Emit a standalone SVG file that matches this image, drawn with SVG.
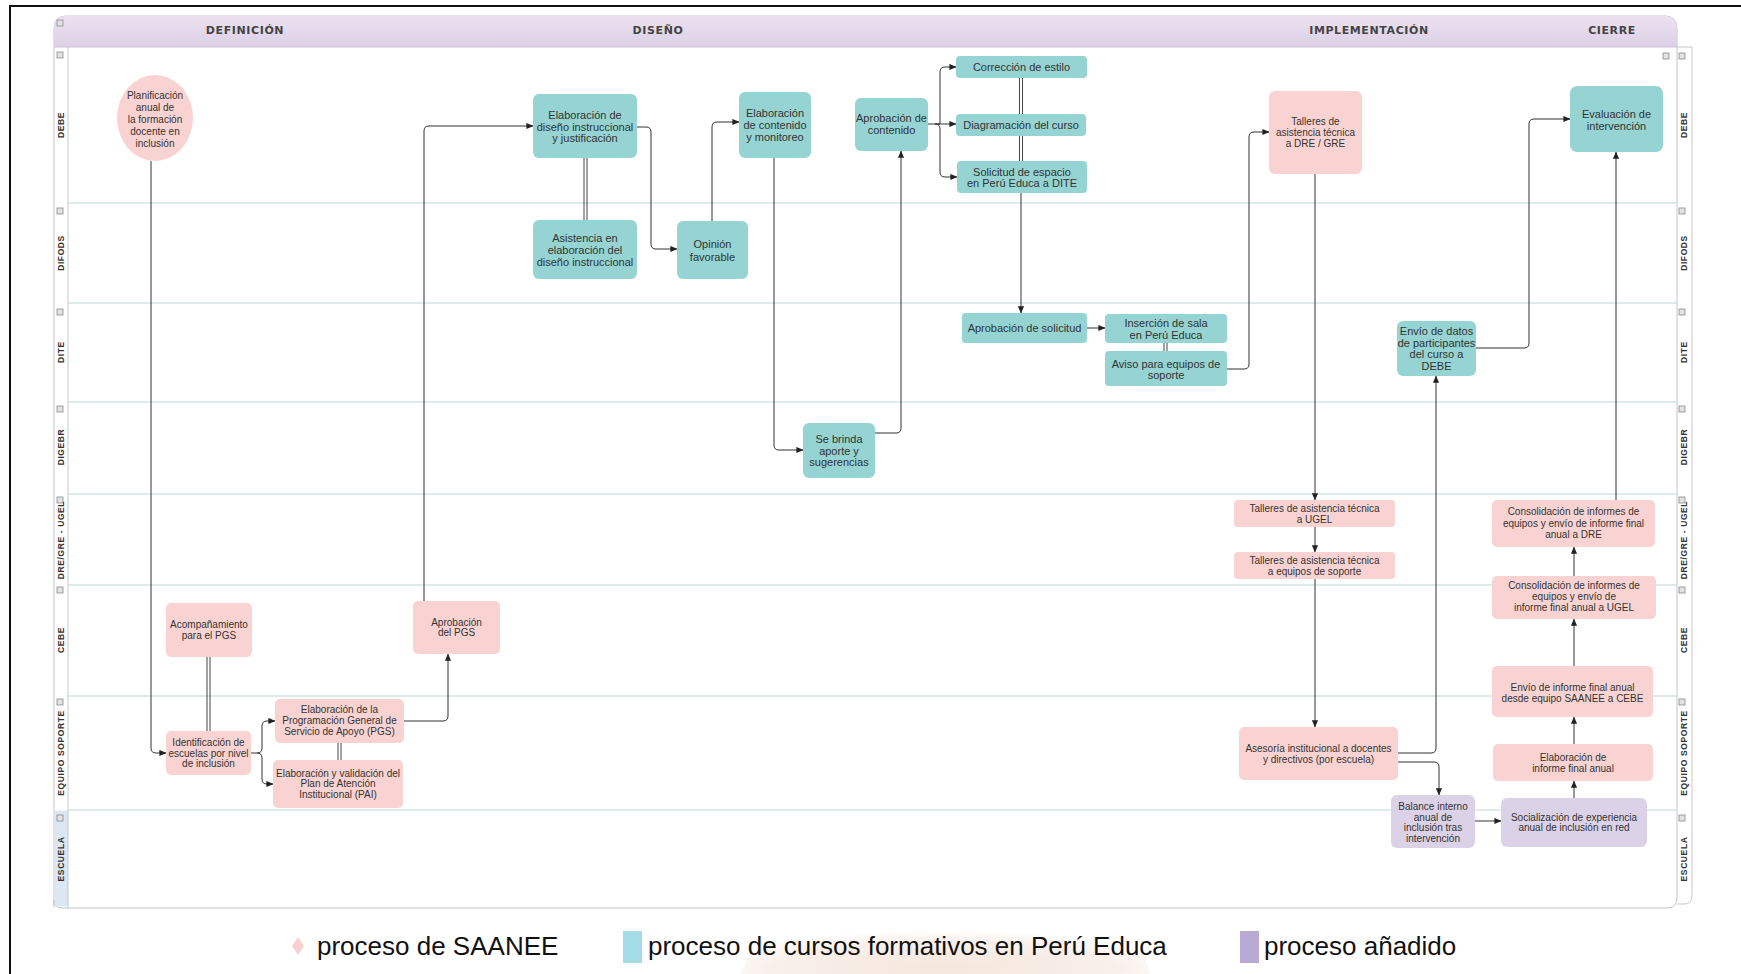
<svg xmlns="http://www.w3.org/2000/svg" width="1741" height="974" viewBox="0 0 1741 974">
<defs>
<marker id="a" viewBox="0 0 8 8" refX="7.6" refY="4" markerWidth="7" markerHeight="7" markerUnits="userSpaceOnUse" orient="auto"><path d="M0,0.5 L8,4 L0,7.5z" fill="#222"/></marker>
<linearGradient id="hg" x1="0" y1="0" x2="0" y2="1"><stop offset="0" stop-color="#ebe2f0"/><stop offset="1" stop-color="#ddd0e6"/></linearGradient>
<radialGradient id="wm" cx="0.5" cy="0.9" r="0.6"><stop offset="0" stop-color="#f4e6dc"/><stop offset="0.7" stop-color="#f9f0ea"/><stop offset="1" stop-color="#ffffff"/></radialGradient>
</defs>
<style>
.teal{fill:#95d4d2}
.pink{fill:#f9d3d1}
.purple{fill:#dcd2e7}
.t{font-family:'Liberation Sans',Arial,sans-serif;font-size:10px;fill:#333;text-anchor:middle}
.t11{font-size:11px}
.lane{font-family:'Liberation Sans',Arial,sans-serif;font-weight:bold;font-size:8.5px;fill:#333;text-anchor:middle;letter-spacing:0.6px}
.hdr{font-family:'DejaVu Sans',Verdana,sans-serif;font-weight:bold;font-size:11px;fill:#444;text-anchor:middle;letter-spacing:0.6px}
.c{fill:none;stroke:#333;stroke-width:1;marker-end:url(#a)}
.d{fill:none;stroke:#444;stroke-width:1}
.div{stroke:#bcdad7;stroke-width:1.2}
.ic{fill:#e2e2e2;stroke:#8a8a8a;stroke-width:0.8}
.leg{font-family:'Liberation Sans',Arial,sans-serif;font-size:26px;fill:#111}
</style>
<rect width="1741" height="974" fill="#fff"/>
<!-- faint watermark band -->
<path d="M740,974 L770,912 H1130 L1150,974 Z" fill="url(#wm)"/>
<!-- frame -->
<path d="M10,974 V6 H1741" fill="none" stroke="#111" stroke-width="2"/>
<!-- pool -->
<g id="pool">
<path d="M54,907 V28 Q54,16 66,16 H1665 Q1677,16 1677,28 V898 Q1677,908 1667,908 H62 Q54,908 54,900 Z" fill="#fff" stroke="#c4c4c4" stroke-width="1"/>
<path d="M54,47 V28 Q54,16 66,16 H1665 Q1677,16 1677,28 V47 Z" fill="url(#hg)"/>
<line x1="54" y1="47" x2="1677" y2="47" stroke="#cfc3d8" stroke-width="1"/>
<rect x="54.5" y="810.5" width="13.5" height="96" fill="#dbe7f3"/>
<line x1="68" y1="47" x2="68" y2="908" stroke="#c8c8c8"/>
<path d="M1677,47 H1692 V896 Q1692,904 1684,904 H1677" fill="none" stroke="#c8c8c8"/>
<line class="div" x1="68" y1="203" x2="1677" y2="203"/>
<line class="div" x1="68" y1="303" x2="1677" y2="303"/>
<line class="div" x1="68" y1="402" x2="1677" y2="402"/>
<line class="div" x1="68" y1="494" x2="1677" y2="494"/>
<line class="div" x1="68" y1="585" x2="1677" y2="585"/>
<line class="div" x1="68" y1="696" x2="1677" y2="696"/>
<line class="div" x1="68" y1="810" x2="1677" y2="810"/>
<text class="hdr" x="245" y="34">DEFINICIÓN</text>
<text class="hdr" x="658" y="34">DISEÑO</text>
<text class="hdr" x="1369" y="34">IMPLEMENTACIÓN</text>
<text class="hdr" x="1612" y="34">CIERRE</text>
<rect class="ic" x="57" y="20" width="6" height="6"/>
<rect class="ic" x="57" y="52" width="6" height="6"/>
<rect class="ic" x="57" y="208" width="6" height="6"/>
<rect class="ic" x="57" y="309" width="6" height="6"/>
<rect class="ic" x="57" y="406" width="6" height="6"/>
<rect class="ic" x="57" y="497" width="6" height="6"/>
<rect class="ic" x="57" y="587" width="6" height="6"/>
<rect class="ic" x="57" y="699" width="6" height="6"/>
<rect class="ic" x="57" y="815" width="6" height="6"/>
<rect class="ic" x="1663" y="53" width="6" height="6"/>
<rect class="ic" x="1679" y="53" width="6" height="6"/>
<rect class="ic" x="1679" y="208" width="6" height="6"/>
<rect class="ic" x="1679" y="309" width="6" height="6"/>
<rect class="ic" x="1679" y="406" width="6" height="6"/>
<rect class="ic" x="1679" y="497" width="6" height="6"/>
<rect class="ic" x="1679" y="587" width="6" height="6"/>
<rect class="ic" x="1679" y="699" width="6" height="6"/>
<rect class="ic" x="1679" y="815" width="6" height="6"/>
<text class="lane" transform="translate(64,125) rotate(-90)">DEBE</text>
<text class="lane" transform="translate(64,253) rotate(-90)">DIFODS</text>
<text class="lane" transform="translate(64,352) rotate(-90)">DITE</text>
<text class="lane" transform="translate(64,447) rotate(-90)">DIGEBR</text>
<text class="lane" transform="translate(64,540) rotate(-90)">DRE/GRE - UGEL</text>
<text class="lane" transform="translate(64,640) rotate(-90)">CEBE</text>
<text class="lane" transform="translate(64,753) rotate(-90)">EQUIPO SOPORTE</text>
<text class="lane" transform="translate(64,859) rotate(-90)">ESCUELA</text>
<text class="lane" transform="translate(1687,125) rotate(-90)">DEBE</text>
<text class="lane" transform="translate(1687,253) rotate(-90)">DIFODS</text>
<text class="lane" transform="translate(1687,352) rotate(-90)">DITE</text>
<text class="lane" transform="translate(1687,447) rotate(-90)">DIGEBR</text>
<text class="lane" transform="translate(1687,540) rotate(-90)">DRE/GRE - UGEL</text>
<text class="lane" transform="translate(1687,640) rotate(-90)">CEBE</text>
<text class="lane" transform="translate(1687,753) rotate(-90)">EQUIPO SOPORTE</text>
<text class="lane" transform="translate(1687,859) rotate(-90)">ESCUELA</text>
</g>
<!-- connectors -->
<g id="connectors">
<path class="c" d="M151,161 V748 Q151,753 156,753 H166"/>
<path class="c" d="M251,753 H257 Q262,753 262,748 V726 Q262,721 267,721 H275"/>
<path class="c" d="M257,753 Q262,753 262,758 V779 Q262,784 267,784 H273"/>
<path class="c" d="M404,721 H443 Q448,721 448,716 V654"/>
<path class="c" d="M424,601 V131 Q424,126 429,126 H533"/>
<path class="c" d="M637,127 H646 Q651,127 651,132 V244 Q651,249 656,249 H677"/>
<path class="c" d="M712,221 V127 Q712,122 717,122 H739"/>
<path class="c" d="M774,158 V445 Q774,450 779,450 H803"/>
<path class="c" d="M875,433 H896 Q901,433 901,428 V151"/>
<path class="c" d="M928,124 H940 Q940,124 940,119 V72 Q940,67 945,67 H956"/>
<path class="c" d="M935,124 H956"/>
<path class="c" d="M935,124 Q940,124 940,129 V172 Q940,177 945,177 H957"/>
<path class="c" d="M1021,193 V313"/>
<path class="c" d="M1087,328 H1105"/>
<path class="c" d="M1227,369 H1244 Q1249,369 1249,364 V137 Q1249,132 1254,132 H1269"/>
<path class="c" d="M1315,174 V500"/>
<path class="c" d="M1315,527 V552"/>
<path class="c" d="M1315,579 V727"/>
<path class="c" d="M1398,753 H1431 Q1436,753 1436,748 V376"/>
<path class="c" d="M1398,762 H1434 Q1439,762 1439,767 V795"/>
<path class="c" d="M1476,348 H1524 Q1529,348 1529,343 V124 Q1529,119 1534,119 H1570"/>
<path class="c" d="M1616,500 V152"/>
<path class="c" d="M1574,576 V547"/>
<path class="c" d="M1574,666 V619"/>
<path class="c" d="M1574,744 V717"/>
<path class="c" d="M1574,798 V781"/>
<path class="c" d="M1475,821 H1501"/>
<path class="d" d="M207,657 V731 M210,657 V731"/>
<path class="d" d="M338,743 V760 M341,743 V760"/>
<path class="d" d="M584,158 V220 M587,158 V220"/>
<path class="d" d="M1019.5,78 V114 M1022.5,78 V114 M1019.5,136 V161 M1022.5,136 V161"/>
<path class="d" d="M1164,343 V351 M1167,343 V351"/>
</g>
<!-- nodes -->
<g id="n1"><ellipse class="pink" cx="155" cy="118" rx="38" ry="43"/><text class="t"><tspan x="155" y="98.5">Planificación</tspan><tspan x="155" y="110.5">anual de</tspan><tspan x="155" y="122.5">la formación</tspan><tspan x="155" y="134.5">docente en</tspan><tspan x="155" y="146.5">inclusión</tspan></text></g>
<g id="n2"><rect class="pink" x="166" y="731" width="85" height="44" rx="5"/><text class="t"><tspan x="208.5" y="746">Identificación de</tspan><tspan x="208.5" y="756.5">escuelas por nivel</tspan><tspan x="208.5" y="767">de inclusión</tspan></text></g>
<g id="n3"><rect class="pink" x="166" y="603" width="86" height="54" rx="5"/><text class="t"><tspan x="209" y="627.5">Acompañamiento</tspan><tspan x="209" y="638.5">para el PGS</tspan></text></g>
<g id="n4"><rect class="pink" x="275" y="699" width="129" height="44" rx="5"/><text class="t"><tspan x="339.5" y="713">Elaboración de la</tspan><tspan x="339.5" y="724">Programación General de</tspan><tspan x="339.5" y="735">Servicio de Apoyo (PGS)</tspan></text></g>
<g id="n5"><rect class="pink" x="273" y="760" width="130" height="48" rx="5"/><text class="t"><tspan x="338" y="776.5">Elaboración y validación del</tspan><tspan x="338" y="787">Plan de Atención</tspan><tspan x="338" y="797.5">Institucional (PAI)</tspan></text></g>
<g id="n6"><rect class="pink" x="413" y="601" width="87" height="53" rx="5"/><text class="t"><tspan x="456.5" y="625.5">Aprobación</tspan><tspan x="456.5" y="635.5">del PGS</tspan></text></g>
<g id="n7"><rect class="teal" x="533" y="94" width="104" height="64" rx="6"/><text class="t t11"><tspan x="585" y="119">Elaboración de</tspan><tspan x="585" y="131">diseño instruccional</tspan><tspan x="585" y="142">y justificación</tspan></text></g>
<g id="n8"><rect class="teal" x="533" y="220" width="104" height="59" rx="6"/><text class="t t11"><tspan x="585" y="242">Asistencia en</tspan><tspan x="585" y="254">elaboración del</tspan><tspan x="585" y="266">diseño instruccional</tspan></text></g>
<g id="n9"><rect class="teal" x="677" y="221" width="71" height="58" rx="6"/><text class="t t11"><tspan x="712.5" y="248">Opinión</tspan><tspan x="712.5" y="260.5">favorable</tspan></text></g>
<g id="n10"><rect class="teal" x="739" y="92" width="72" height="66" rx="6"/><text class="t t11"><tspan x="775" y="117">Elaboración</tspan><tspan x="775" y="129">de contenido</tspan><tspan x="775" y="141">y monitoreo</tspan></text></g>
<g id="n11"><rect class="teal" x="803" y="423" width="72" height="55" rx="6"/><text class="t t11"><tspan x="839" y="443">Se brinda</tspan><tspan x="839" y="455">aporte y</tspan><tspan x="839" y="466">sugerencias</tspan></text></g>
<g id="n12"><rect class="teal" x="855" y="98" width="73" height="53" rx="6"/><text class="t t11"><tspan x="891.5" y="122">Aprobación de</tspan><tspan x="891.5" y="134">contenido</tspan></text></g>
<g id="n13"><rect class="teal" x="956" y="56" width="131" height="22" rx="4"/><text class="t t11" x="1021.5" y="71">Corrección de estilo</text></g>
<g id="n14"><rect class="teal" x="956" y="114" width="130" height="22" rx="4"/><text class="t t11" x="1021" y="129">Diagramación del curso</text></g>
<g id="n15"><rect class="teal" x="957" y="161" width="130" height="32" rx="4"/><text class="t t11"><tspan x="1022" y="176">Solicitud de espacio</tspan><tspan x="1022" y="187">en Perú Educa a DITE</tspan></text></g>
<g id="n16"><rect class="teal" x="962" y="313" width="125" height="30" rx="4"/><text class="t t11" x="1024.5" y="332">Aprobación de solicitud</text></g>
<g id="n17"><rect class="teal" x="1105" y="314" width="122" height="29" rx="4"/><text class="t t11"><tspan x="1166" y="327">Inserción de sala</tspan><tspan x="1166" y="339">en Perú Educa</tspan></text></g>
<g id="n18"><rect class="teal" x="1105" y="351" width="122" height="35" rx="4"/><text class="t t11"><tspan x="1166" y="368">Aviso para equipos de</tspan><tspan x="1166" y="379">soporte</tspan></text></g>
<g id="n19"><rect class="pink" x="1269" y="91" width="93" height="83" rx="6"/><text class="t"><tspan x="1315.5" y="124.5">Talleres de</tspan><tspan x="1315.5" y="135.5">asistencia técnica</tspan><tspan x="1315.5" y="146.5">a DRE / GRE</tspan></text></g>
<g id="n20"><rect class="pink" x="1234" y="500" width="161" height="27" rx="4"/><text class="t"><tspan x="1314.5" y="511.5">Talleres de asistencia técnica</tspan><tspan x="1314.5" y="522.5">a UGEL</tspan></text></g>
<g id="n21"><rect class="pink" x="1234" y="552" width="161" height="27" rx="4"/><text class="t"><tspan x="1314.5" y="563.5">Talleres de asistencia técnica</tspan><tspan x="1314.5" y="575">a equipos de soporte</tspan></text></g>
<g id="n22"><rect class="pink" x="1239" y="727" width="159" height="53" rx="5"/><text class="t"><tspan x="1318.5" y="751.5">Asesoría institucional a docentes</tspan><tspan x="1318.5" y="762.5">y directivos (por escuela)</tspan></text></g>
<g id="n23"><rect class="teal" x="1397" y="321" width="79" height="55" rx="6"/><text class="t t11"><tspan x="1436.5" y="335">Envío de datos</tspan><tspan x="1436.5" y="347">de participantes</tspan><tspan x="1436.5" y="358">del curso a</tspan><tspan x="1436.5" y="370">DEBE</tspan></text></g>
<g id="n24"><rect class="teal" x="1570" y="86" width="93" height="66" rx="7"/><text class="t t11"><tspan x="1616.5" y="118">Evaluación de</tspan><tspan x="1616.5" y="130">intervención</tspan></text></g>
<g id="n25"><rect class="pink" x="1492" y="500" width="163" height="47" rx="5"/><text class="t"><tspan x="1573.5" y="514.5">Consolidación de informes de</tspan><tspan x="1573.5" y="526.5">equipos y envío de informe final</tspan><tspan x="1573.5" y="537.5">anual a DRE</tspan></text></g>
<g id="n26"><rect class="pink" x="1492" y="576" width="164" height="43" rx="5"/><text class="t"><tspan x="1574" y="588.5">Consolidación de informes de</tspan><tspan x="1574" y="599.5">equipos y envío de</tspan><tspan x="1574" y="610.5">informe final anual a UGEL</tspan></text></g>
<g id="n27"><rect class="pink" x="1492" y="666" width="161" height="51" rx="5"/><text class="t"><tspan x="1572.5" y="690.5">Envío de informe final anual</tspan><tspan x="1572.5" y="701.5">desde equipo SAANEE a CEBE</tspan></text></g>
<g id="n28"><rect class="pink" x="1493" y="744" width="160" height="37" rx="5"/><text class="t"><tspan x="1573" y="760.5">Elaboración de</tspan><tspan x="1573" y="771.5">informe final anual</tspan></text></g>
<g id="n29"><rect class="purple" x="1501" y="798" width="146" height="49" rx="6"/><text class="t"><tspan x="1574" y="820.5">Socialización de experiencia</tspan><tspan x="1574" y="830.5">anual de inclusión en red</tspan></text></g>
<g id="n30"><rect class="purple" x="1391" y="795" width="84" height="53" rx="6"/><text class="t"><tspan x="1433" y="809.5">Balance interno</tspan><tspan x="1433" y="820.5">anual de</tspan><tspan x="1433" y="830.5">inclusión tras</tspan><tspan x="1433" y="841.5">intervención</tspan></text></g>
<!-- legend -->
<g id="legend">
<path d="M298,937 L304,946 L298,955 L292,946 Z" fill="#f9cfd0"/>
<text class="leg" x="317" y="955">proceso de SAANEE</text>
<rect x="623" y="931" width="19" height="32" fill="#a3dce6"/>
<text class="leg" x="648" y="955">proceso de cursos formativos en Perú Educa</text>
<rect x="1240" y="931" width="19" height="32" fill="#b7abd5"/>
<text class="leg" x="1264" y="955">proceso añadido</text>
</g>
</svg>
